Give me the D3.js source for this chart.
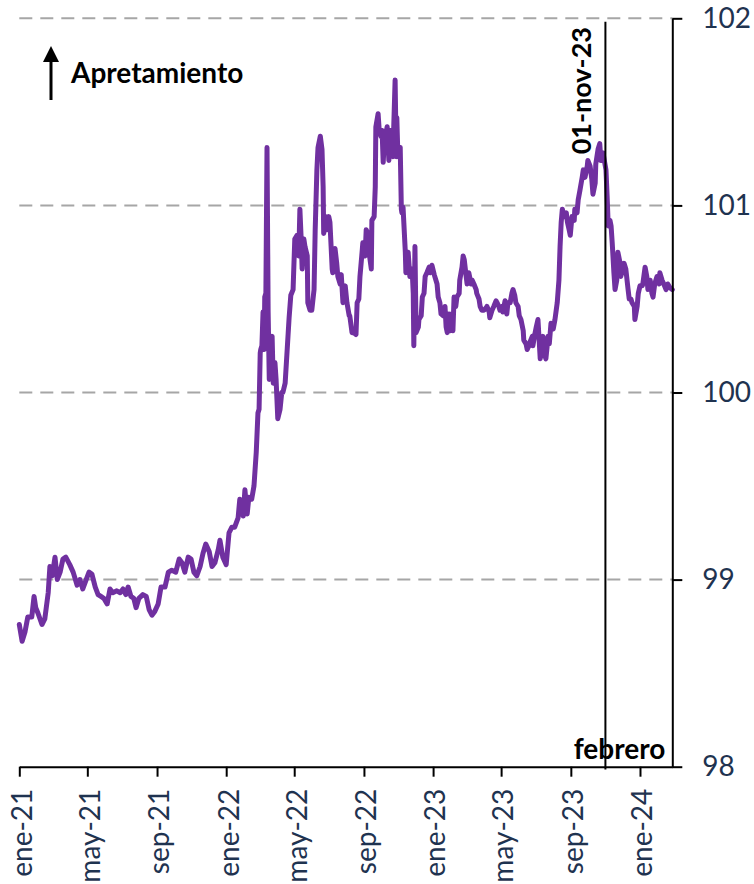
<!DOCTYPE html>
<html>
<head>
<meta charset="utf-8">
<script src="https://cdn.jsdelivr.net/npm/d3@7"></script>
<style>
  html, body { margin: 0; padding: 0; background: #ffffff; }
  svg { display: block; }
</style>
</head>
<body>
<svg id="chart" width="754" height="884"></svg>
<script>
(function () {
// ---------------- DATA ----------------
const dates = [
  "2021-01-01","2021-01-06","2021-01-11","2021-01-16","2021-01-23","2021-01-27","2021-01-30","2021-02-03","2021-02-10","2021-02-15",
  "2021-02-21","2021-02-24","2021-02-28","2021-03-05","2021-03-09","2021-03-14","2021-03-19","2021-03-24","2021-03-31","2021-04-06",
  "2021-04-13","2021-04-18","2021-04-23","2021-04-29","2021-05-04","2021-05-09","2021-05-15","2021-05-20","2021-05-25","2021-05-30",
  "2021-06-05","2021-06-10","2021-06-15","2021-06-22","2021-06-28","2021-07-03","2021-07-08","2021-07-12","2021-07-17","2021-07-22",
  "2021-07-26","2021-07-31","2021-08-07","2021-08-13","2021-08-18","2021-08-23","2021-08-28","2021-09-03","2021-09-08","2021-09-15",
  "2021-09-21","2021-09-27","2021-10-04","2021-10-10","2021-10-15","2021-10-20","2021-10-26","2021-10-31","2021-11-05","2021-11-10",
  "2021-11-16","2021-11-21","2021-11-26","2021-12-02","2021-12-07","2021-12-12","2021-12-18","2021-12-21","2021-12-26",
  "2022-01-01","2022-01-06","2022-01-11","2022-01-16","2022-01-22","2022-01-25","2022-01-31","2022-02-03","2022-02-07","2022-02-10",
  "2022-02-15","2022-02-19","2022-02-23","2022-02-26","2022-02-28","2022-03-02","2022-03-03","2022-03-05","2022-03-07","2022-03-09",
  "2022-03-10","2022-03-12","2022-03-14","2022-03-16","2022-03-18","2022-03-19","2022-03-23","2022-03-25","2022-03-28","2022-03-30",
  "2022-04-02","2022-04-06","2022-04-09","2022-04-11","2022-04-15","2022-04-18","2022-04-22","2022-04-25","2022-04-29","2022-05-02",
  "2022-05-06","2022-05-09","2022-05-11","2022-05-13","2022-05-15","2022-05-18","2022-05-20","2022-05-24","2022-05-25","2022-05-29",
  "2022-06-01","2022-06-05","2022-06-07","2022-06-10","2022-06-12","2022-06-16","2022-06-19","2022-06-21","2022-06-22","2022-06-26",
  "2022-06-28","2022-07-01","2022-07-03","2022-07-07","2022-07-08","2022-07-12","2022-07-15","2022-07-17","2022-07-21","2022-07-23",
  "2022-07-26","2022-07-30","2022-08-02","2022-08-06","2022-08-07","2022-08-11","2022-08-14","2022-08-18","2022-08-20","2022-08-23",
  "2022-08-25","2022-08-29","2022-08-30","2022-09-03","2022-09-05","2022-09-08","2022-09-10","2022-09-14","2022-09-15","2022-09-19",
  "2022-09-21","2022-09-22","2022-09-26","2022-09-28","2022-10-01","2022-10-03","2022-10-05","2022-10-07","2022-10-10","2022-10-12",
  "2022-10-15","2022-10-17","2022-10-20","2022-10-22","2022-10-26","2022-10-28","2022-10-29","2022-10-31","2022-11-04","2022-11-06",
  "2022-11-07","2022-11-09","2022-11-13","2022-11-14","2022-11-18","2022-11-21","2022-11-25","2022-11-27","2022-11-28","2022-11-30",
  "2022-12-02","2022-12-06","2022-12-07","2022-12-11","2022-12-13","2022-12-16","2022-12-18","2022-12-21","2022-12-25","2022-12-27",
  "2022-12-30",
  "2023-01-03","2023-01-06","2023-01-08","2023-01-10","2023-01-13","2023-01-15","2023-01-19","2023-01-22","2023-01-24","2023-01-26",
  "2023-01-29","2023-01-31","2023-02-02","2023-02-05","2023-02-07","2023-02-10","2023-02-12","2023-02-16","2023-02-17","2023-02-21",
  "2023-02-23","2023-02-25","2023-02-28","2023-03-02","2023-03-05","2023-03-09","2023-03-11","2023-03-14","2023-03-18","2023-03-19",
  "2023-03-23","2023-03-25","2023-03-28","2023-04-01","2023-04-04","2023-04-06","2023-04-10","2023-04-11","2023-04-15","2023-04-18",
  "2023-04-22","2023-04-24","2023-04-27","2023-04-29","2023-05-03","2023-05-04","2023-05-08","2023-05-11","2023-05-13","2023-05-17",
  "2023-05-20","2023-05-22","2023-05-25","2023-05-27","2023-05-31","2023-06-02","2023-06-05","2023-06-09","2023-06-10","2023-06-14",
  "2023-06-16","2023-06-19","2023-06-21","2023-06-25","2023-06-26","2023-06-30","2023-07-02","2023-07-05","2023-07-09","2023-07-11",
  "2023-07-14","2023-07-16","2023-07-19","2023-07-23","2023-07-25","2023-07-28","2023-08-01","2023-08-04","2023-08-08","2023-08-11",
  "2023-08-13","2023-08-15","2023-08-17","2023-08-20","2023-08-24","2023-08-26","2023-08-29","2023-08-31","2023-09-03","2023-09-07",
  "2023-09-08","2023-09-12","2023-09-14","2023-09-17","2023-09-21","2023-09-23","2023-09-26","2023-09-30","2023-10-01","2023-10-05",
  "2023-10-08","2023-10-10","2023-10-14","2023-10-15","2023-10-19","2023-10-22","2023-10-24","2023-10-28","2023-10-29","2023-11-02",
  "2023-11-04","2023-11-06","2023-11-09","2023-11-11","2023-11-13","2023-11-16","2023-11-18","2023-11-21","2023-11-23","2023-11-27",
  "2023-11-28","2023-12-02","2023-12-04","2023-12-07","2023-12-11","2023-12-13","2023-12-16","2023-12-18","2023-12-22","2023-12-23",
  "2023-12-27","2023-12-29",
  "2024-01-01","2024-01-05","2024-01-06","2024-01-10","2024-01-13","2024-01-15","2024-01-19","2024-01-22","2024-01-24","2024-01-27",
  "2024-01-31","2024-02-04","2024-02-05","2024-02-09","2024-02-12","2024-02-16","2024-02-19","2024-02-23","2024-02-27"
];
const values = [
  98.76,98.67,98.72,98.80,98.80,98.91,98.85,98.82,98.76,98.79,
  98.93,99.07,99.02,99.12,99.00,99.04,99.11,99.12,99.08,99.04,
  98.97,99.00,98.95,99.00,99.04,99.03,98.96,98.92,98.91,98.90,
  98.87,98.95,98.93,98.94,98.93,98.95,98.92,98.96,98.91,98.90,
  98.85,98.90,98.92,98.91,98.84,98.81,98.83,98.87,98.96,98.96,
  99.04,99.05,99.04,99.11,99.09,99.04,99.12,99.11,99.04,99.02,
  99.07,99.14,99.19,99.15,99.07,99.09,99.16,99.21,99.12,
  99.08,99.25,99.28,99.28,99.33,99.43,99.34,99.48,99.35,99.44,
  99.43,99.50,99.68,99.89,99.91,100.21,100.23,100.25,100.43,100.23,
  100.51,100.53,101.31,100.43,100.07,100.25,100.30,100.05,100.16,100.07,
  99.86,99.91,100.00,100.00,100.05,100.20,100.40,100.52,100.55,100.82,
  100.84,100.73,100.98,100.84,100.66,100.82,100.78,100.73,100.48,100.44,
  100.44,100.55,100.87,101.19,101.31,101.37,101.30,101.10,100.85,100.94,
  100.87,100.94,100.91,100.66,100.64,100.77,100.69,100.62,100.58,100.63,
  100.48,100.57,100.48,100.41,100.41,100.32,100.32,100.31,100.48,100.50,
  100.62,100.76,100.80,100.73,100.87,100.85,100.75,100.66,100.92,100.94,
  101.10,101.42,101.49,101.40,101.37,101.40,101.23,101.35,101.39,101.42,
  101.24,101.40,101.40,101.26,101.67,101.26,101.47,101.26,101.31,100.98,
  100.96,100.99,100.75,100.64,100.75,100.62,100.66,100.53,100.25,100.78,
  100.32,100.35,100.39,100.41,100.51,100.53,100.62,100.64,100.67,100.64,
  100.68,
  100.63,100.60,100.58,100.51,100.48,100.42,100.41,100.46,100.35,100.32,
  100.42,100.33,100.42,100.33,100.51,100.46,100.51,100.53,100.60,100.67,
  100.73,100.71,100.63,100.58,100.64,100.58,100.60,100.58,100.55,100.53,
  100.50,100.46,100.44,100.44,100.45,100.46,100.43,100.40,100.44,100.46,
  100.49,100.48,100.46,100.44,100.46,100.43,100.49,100.42,100.48,100.48,
  100.53,100.55,100.52,100.48,100.46,100.41,100.39,100.33,100.28,100.26,
  100.23,100.25,100.27,100.30,100.25,100.32,100.35,100.39,100.18,100.23,
  100.30,100.21,100.18,100.30,100.26,100.37,100.34,100.39,100.48,100.60,
  100.78,100.91,100.98,100.94,100.96,100.91,100.87,100.84,100.94,100.92,
  100.98,100.96,101.03,101.08,101.15,101.19,101.15,101.21,101.24,101.21,
  101.14,101.06,101.12,101.22,101.30,101.33,101.24,101.28,101.26,101.19,
  101.05,100.89,100.92,100.89,100.80,100.64,100.55,100.60,100.75,100.69,
  100.62,100.66,100.69,100.66,100.55,100.50,100.50,100.48,100.46,100.39,
  100.46,100.53,
  100.57,100.57,100.58,100.67,100.62,100.55,100.60,100.53,100.51,100.58,
  100.62,100.58,100.64,100.60,100.58,100.55,100.58,100.56,100.55
];
const yTicks = [98, 99, 100, 101, 102];
const xTickDates = ["2021-01-01","2021-05-01","2021-09-01","2022-01-01","2022-05-01","2022-09-01",
                    "2023-01-01","2023-05-01","2023-09-01","2024-01-01"];
const monthNames = ["ene","feb","mar","abr","may","jun","jul","ago","sep","oct","nov","dic"];
const markerDate = "2023-11-01";
const markerLabel = "01-nov-23";
const endLabel = "febrero";
const arrowLabel = "Apretamiento";

// ---------------- DRAW ----------------
const parse = d3.timeParse("%Y-%m-%d");
const n = Math.min(dates.length, values.length);
const series = dates.slice(0, n).map((d, i) => ({ date: parse(d), value: values[i] }));

const mLeft = 19.3, mRight = 672.3, mTop = 18.3, mBottom = 766.7;
const x = d3.scaleTime()
  .domain(d3.extent(series, d => d.date))
  .range([mLeft, mRight]);
const y = d3.scaleLinear().domain([98, 102]).range([mBottom, mTop]);

const svg = d3.select("#chart");
const FONT = "Lato, 'Open Sans', sans-serif";
const NAVY = "#1f3350";

// gridlines
svg.append("g").selectAll("line")
  .data(yTicks.filter(t => t > 98))
  .join("line")
  .attr("x1", mLeft).attr("x2", mRight)
  .attr("y1", d => y(d)).attr("y2", d => y(d))
  .attr("stroke", "#a6a6a6").attr("stroke-width", 2)
  .attr("stroke-dasharray", "13,8");

// series line
svg.append("path")
  .datum(series)
  .attr("fill", "none")
  .attr("stroke", "#7030a0")
  .attr("stroke-width", 5)
  .attr("stroke-linejoin", "round")
  .attr("stroke-linecap", "round")
  .attr("d", d3.line().x(d => x(d.date)).y(d => y(d.value)));

// marker vertical line
const mx = x(parse(markerDate));
svg.append("line")
  .attr("x1", mx).attr("x2", mx)
  .attr("y1", 21.7).attr("y2", 769.5)
  .attr("stroke", "#000").attr("stroke-width", 2);

svg.append("text")
  .attr("transform", `translate(${mx - 14},27) rotate(-90)`)
  .attr("text-anchor", "end")
  .attr("font-family", FONT).attr("font-weight", "bold")
  .attr("font-size", 27).attr("fill", "#000")
  .text(markerLabel);

// right axis
const yAxis = d3.axisRight(y).tickValues(yTicks).tickSize(10).tickSizeOuter(0).tickPadding(20)
  .tickFormat(d3.format("d"));
const gy = svg.append("g").attr("transform", `translate(${mRight},0)`).call(yAxis);
gy.select(".domain").attr("stroke", "#000").attr("stroke-width", 2);
gy.selectAll(".tick line").attr("stroke", "#000").attr("stroke-width", 2);
gy.selectAll(".tick text")
  .attr("font-family", FONT).attr("font-size", 28).attr("fill", NAVY);

// bottom axis
const xAxis = d3.axisBottom(x)
  .tickValues(xTickDates.map(parse))
  .tickSize(10).tickSizeOuter(0)
  .tickFormat(d => monthNames[d.getMonth()] + "-" + String(d.getFullYear()).slice(2));
const gx = svg.append("g").attr("transform", `translate(0,${mBottom})`).call(xAxis);
gx.select(".domain").attr("stroke", "#000").attr("stroke-width", 2);
gx.selectAll(".tick line").attr("stroke", "#000").attr("stroke-width", 2);
gx.selectAll(".tick text")
  .attr("font-family", FONT).attr("font-size", 28).attr("fill", NAVY)
  .attr("text-anchor", "end")
  .attr("transform", "translate(2,22) rotate(-90)")
  .attr("x", 0).attr("y", 0).attr("dy", "0.35em");

// end label
svg.append("text")
  .attr("x", mRight - 7).attr("y", 759)
  .attr("text-anchor", "end")
  .attr("font-family", FONT).attr("font-weight", "bold")
  .attr("font-size", 28).attr("fill", "#000")
  .text(endLabel);

// arrow annotation
svg.append("line")
  .attr("x1", 51).attr("x2", 51).attr("y1", 100).attr("y2", 58)
  .attr("stroke", "#000").attr("stroke-width", 3);
svg.append("path")
  .attr("d", d3.line()([[43, 62], [51, 46], [59, 62]]) + "Z")
  .attr("fill", "#000");
svg.append("text")
  .attr("x", 71).attr("y", 83)
  .attr("font-family", FONT).attr("font-weight", "bold")
  .attr("font-size", 28).attr("fill", "#000")
  .text(arrowLabel);
})();
</script>
</body>
</html>
